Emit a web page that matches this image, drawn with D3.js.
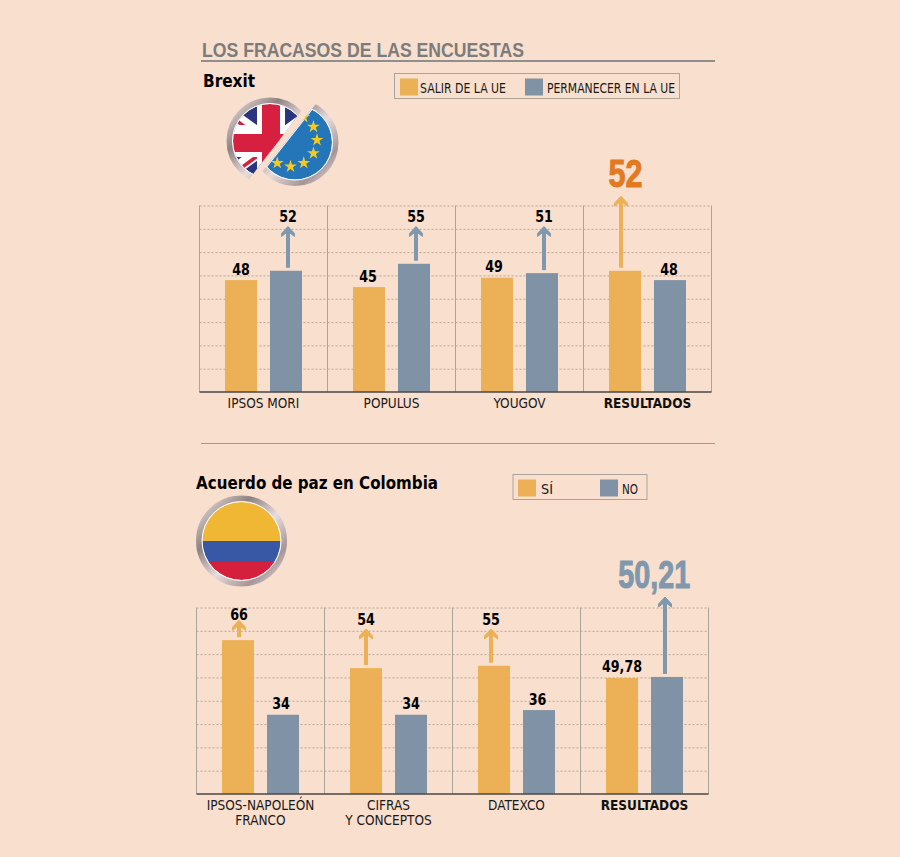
<!DOCTYPE html>
<html>
<head>
<meta charset="utf-8">
<script src="https://cdn.jsdelivr.net/npm/d3@7"></script>
<style>
html, body { margin: 0; padding: 0; background: #f9dfcd; }
svg { display: block; }
text { font-family: "DejaVu Sans Condensed", "DejaVu Sans", sans-serif; fill: #1a1a1a; }
.val { font-weight: bold; font-size: 15px; fill: #000; text-anchor: middle; }
.big { font-family: "Liberation Sans Narrow", "Liberation Sans", sans-serif; font-weight: bold; font-size: 39px; text-anchor: middle; stroke-width: 1px; }
.head { font-weight: bold; fill: #000; }
.leg { font-size: 14px; }
.grid line { stroke: #b8a797; stroke-dasharray: 2 2; }
.grid path { stroke: none; }
.cat path, .cat line { stroke: none; }
.cat text { font-size: 13.5px; fill: #1a1a1a; }
</style>
</head>
<body>
<svg id="chart" width="900" height="857"></svg>
<script>
var orange = '#ecb156', blue = '#8093a6', arrowBlue = '#7f98ae', resultOrange = '#e17a22';

// Brexit
var brexitCats = ['IPSOS MORI', 'POPULUS', 'YOUGOV', 'RESULTADOS'];
var brexitLeave = [48, 45, 49, 52];
var brexitStay = [52, 55, 51, 48];
var brexitLeaveLabels = ['48', '45', '49', '52'];
var brexitStayLabels = ['52', '55', '51', '48'];
// where the arrow tips reach, in chart units (0 = no arrow)
var brexitLeaveTips = [0, 0, 0, 84];
var brexitStayTips = [71, 71, 71, 0];

// Colombia
var colombiaCats = ['IPSOS-NAPOLEÓN|FRANCO', 'CIFRAS|Y CONCEPTOS', 'DATEXCO', 'RESULTADOS'];
var colombiaYes = [66, 54, 55, 49.78];
var colombiaNo = [34, 34, 36, 50.21];
var colombiaYesLabels = ['66', '54', '55', '49,78'];
var colombiaNoLabels = ['34', '34', '36', '50,21'];
var colombiaYesTips = [74.5, 70.8, 70.8, 0];
var colombiaNoTips = [0, 0, 0, 84.5];

var gridTicks = [0, 10, 20, 30, 40, 50, 60, 70, 80];

var svg = d3.select('#chart');

function text(x, y, str, cls, size, len) {
    var t = svg.append('text').attr('x', x).attr('y', y).attr('class', cls).text(str);
    if (size) t.style('font-size', size + 'px');
    if (len) t.attr('textLength', len).attr('lengthAdjust', 'spacingAndGlyphs');
    return t;
}

function drawChart(opt) {
    var g = svg.append('g').attr('transform', 'translate(' + opt.left + ',' + opt.top + ')');
    var w = opt.width, h = opt.height;
    var x0 = d3.scaleBand().domain(d3.range(opt.cats.length)).range([0, w]);
    var x1 = d3.scaleBand().domain([0, 1]).range([25.5, 102.5]).paddingInner(0.2889);
    var y = d3.scaleLinear().domain([0, 80]).range([h, 0]);

    g.append('g').attr('class', 'grid')
        .call(d3.axisLeft(y).tickValues(gridTicks).tickSize(-w).tickFormat(''))
        .selectAll('.tick').filter(function(d) { return d == 0; }).remove();

    g.selectAll('.panel').data(d3.range(opt.cats.length + 1)).enter().append('line')
        .attr('class', 'panel')
        .attr('x1', function(d) { return d * x0.bandwidth(); })
        .attr('x2', function(d) { return d * x0.bandwidth(); })
        .attr('y1', 0).attr('y2', h)
        .attr('stroke', '#aba49c').attr('stroke-width', 1);

    var series = [
        { vals: opt.a, labels: opt.aLabels, tips: opt.aTips, shift: opt.aShift, color: orange, arrow: orange, big: resultOrange },
        { vals: opt.b, labels: opt.bLabels, tips: opt.bTips, shift: opt.bShift, color: blue, arrow: arrowBlue, big: arrowBlue }
    ];

    series.forEach(function(s, si) {
        s.vals.forEach(function(v, i) {
            var cx = x0(i) + x1(si) + x1.bandwidth() / 2 + s.shift[i];
            g.append('rect')
                .attr('x', x0(i) + x1(si))
                .attr('y', y(v))
                .attr('width', x1.bandwidth())
                .attr('height', h - y(v))
                .attr('fill', s.color);

            var tip = s.tips[i], label;
            if (tip) {
                var ty = y(tip);
                g.append('line')
                    .attr('x1', cx).attr('x2', cx)
                    .attr('y1', y(v) - 3).attr('y2', ty + 2)
                    .attr('stroke', s.arrow).attr('stroke-width', 4);
                g.append('path')
                    .attr('d', 'M' + (cx - 6.5) + ',' + (ty + 10) + 'L' + (cx - 6.5) + ',' + (ty + 7) + 'L' + cx + ',' + ty + 'L' + (cx + 6.5) + ',' + (ty + 7) + 'L' + (cx + 6.5) + ',' + (ty + 10) + 'L' + cx + ',' + (ty + 5) + 'Z')
                    .attr('fill', s.arrow).attr('stroke', s.arrow).attr('stroke-width', 1);
                if (i == 3) {
                    g.append('text').attr('class', 'big')
                        .attr('x', cx + (si == 0 ? 4.5 : -10.7)).attr('y', ty - 9.5)
                        .attr('textLength', si == 0 ? 34 : 72).attr('lengthAdjust', 'spacingAndGlyphs')
                        .style('fill', s.big).style('stroke', s.big)
                        .text(s.labels[i]);
                } else {
                    label = g.append('text').attr('class', 'val')
                        .attr('x', cx).attr('y', ty - opt.lift[i])
                        .text(s.labels[i]);
                }
            } else {
                label = g.append('text').attr('class', 'val')
                    .attr('x', cx).attr('y', y(v) - 5.5)
                    .text(s.labels[i]);
            }
            if (label) {
                label.attr('textLength', label.node().getComputedTextLength() * 0.94).attr('lengthAdjust', 'spacingAndGlyphs');
            }
        });
    });

    // baseline + category labels
    var axis = g.append('g').attr('class', 'cat').attr('transform', 'translate(0,' + h + ')')
        .call(d3.axisBottom(x0).tickSize(0).tickFormat(''));
    axis.selectAll('.tick').each(function(d) {
        var parts = opt.cats[d].split('|');
        var t = d3.select(this).select('text').attr('y', 0).attr('dy', null);
        parts.forEach(function(p, j) {
            t.append('tspan').attr('x', 0).attr('y', 15.5 + j * 15).text(p);
        });
        if (d == 3) t.style('font-weight', 'bold').style('fill', '#111');
    });
    g.append('line').attr('x1', 0).attr('x2', w).attr('y1', h).attr('y2', h)
        .attr('stroke', '#4b4744').attr('stroke-width', 1.5);
}

function legend(x, y, w, h, items) {
    svg.append('rect').attr('x', x).attr('y', y).attr('width', w).attr('height', h)
        .attr('fill', 'none').attr('stroke', '#aba49c').attr('stroke-width', 1);
    items.forEach(function(d) {
        svg.append('rect').attr('x', d.sx).attr('y', y + 5).attr('width', 18).attr('height', 17).attr('fill', d.color);
        text(d.tx, y + 19, d.label, 'leg', null, d.len);
    });
}

// header
text(202, 57, 'LOS FRACASOS DE LAS ENCUESTAS', 'title', 20, 322)
    .style('font-family', '"Liberation Sans", sans-serif').style('font-weight', 'bold').style('fill', '#7c7c7c');
svg.append('line').attr('x1', 201).attr('x2', 715).attr('y1', 61).attr('y2', 61).attr('stroke', '#8f8f8f').attr('stroke-width', 2);
svg.append('line').attr('x1', 201).attr('x2', 715).attr('y1', 443.5).attr('y2', 443.5).attr('stroke', '#a39c93').attr('stroke-width', 1);

text(203, 87, 'Brexit', 'head', 17, 52);
text(196, 489, 'Acuerdo de paz en Colombia', 'head', 18, 242);

legend(394.5, 73.5, 285, 25, [
    { sx: 400, tx: 420, color: orange, label: 'SALIR DE LA UE', len: 86 },
    { sx: 525, tx: 547, color: blue, label: 'PERMANECER EN LA UE', len: 128 }
]);
legend(513, 474.5, 134, 25, [
    { sx: 518, tx: 541, color: orange, label: 'SÍ', len: 12 },
    { sx: 600, tx: 622, color: blue, label: 'NO', len: 16 }
]);

drawChart({
    left: 199.5, top: 205.5, width: 512, height: 186.5,
    cats: brexitCats, a: brexitLeave, b: brexitStay,
    aLabels: brexitLeaveLabels, bLabels: brexitStayLabels,
    aTips: brexitLeaveTips, bTips: brexitStayTips,
    aShift: [0, -1, -3, -4], bShift: [2, 2, 2, -1], lift: [4, 4, 4, 0]
});
drawChart({
    left: 196.5, top: 607.5, width: 512, height: 186.5,
    cats: colombiaCats, a: colombiaYes, b: colombiaNo,
    aLabels: colombiaYesLabels, bLabels: colombiaNoLabels,
    aTips: colombiaYesTips, bTips: colombiaNoTips,
    aShift: [1, 0, -3, 0], bShift: [-2, 0, -1.5, -2], lift: [0.5, 4, 4, 0]
});

// flags
var defs = svg.append('defs');
var grad = defs.append('linearGradient').attr('id', 'ring').attr('x1', '0').attr('y1', '0').attr('x2', '1').attr('y2', '1');
[['0%', '#efe3e3'], ['30%', '#8e8283'], ['55%', '#e8dcdc'], ['80%', '#a59596'], ['100%', '#efe3e3']].forEach(function(s) {
    grad.append('stop').attr('offset', s[0]).attr('stop-color', s[1]);
});
defs.append('clipPath').attr('id', 'cutL').append('polygon').attr('points', '350,48 200,243 100,243 100,48');
defs.append('clipPath').attr('id', 'cutR').append('polygon').attr('points', '368,38 156,306 450,306 450,38');
defs.append('clipPath').attr('id', 'ukDisc').append('circle').attr('cx', 270).attr('cy', 141).attr('r', 37);
defs.append('clipPath').attr('id', 'coDisc').append('circle').attr('cx', 241.5).attr('cy', 541).attr('r', 39);

function disc(g, cx, cy, r) {
    g.append('circle').attr('cx', cx).attr('cy', cy).attr('r', r + 3.5).attr('fill', 'none').attr('stroke', 'url(#ring)').attr('stroke-width', 6);
    g.append('circle').attr('cx', cx).attr('cy', cy).attr('r', r + 0.5).attr('fill', 'none').attr('stroke', '#fff').attr('stroke-width', 1);
}

var uk = svg.append('g').attr('clip-path', 'url(#cutL)');
var ukInner = uk.append('g').attr('clip-path', 'url(#ukDisc)');
ukInner.append('rect').attr('x', 225).attr('y', 98).attr('width', 90).attr('height', 90).attr('fill', '#2a3580');
var ukLines = [[151, 55, 391, 231], [151, 231, 391, 55]];
ukLines.forEach(function(l) {
    ukInner.append('line').attr('x1', l[0]).attr('y1', l[1]).attr('x2', l[2]).attr('y2', l[3]).attr('stroke', '#fff').attr('stroke-width', 12);
});
ukLines.forEach(function(l) {
    ukInner.append('line').attr('x1', l[0]).attr('y1', l[1] + 3).attr('x2', l[2]).attr('y2', l[3] + 3).attr('stroke', '#d71f3f').attr('stroke-width', 3.5);
});
ukInner.append('rect').attr('x', 257).attr('y', 98).attr('width', 28).attr('height', 90).attr('fill', '#fff');
ukInner.append('rect').attr('x', 225).attr('y', 125).attr('width', 90).attr('height', 32).attr('fill', '#fff');
ukInner.append('rect').attr('x', 262).attr('y', 98).attr('width', 18).attr('height', 90).attr('fill', '#d71f3f');
ukInner.append('rect').attr('x', 225).attr('y', 134).attr('width', 90).attr('height', 18).attr('fill', '#d71f3f');
disc(uk, 270, 141, 37);

var eu = svg.append('g').attr('clip-path', 'url(#cutR)');
eu.append('circle').attr('cx', 295).attr('cy', 142.5).attr('r', 37).attr('fill', '#2476b8');
eu.append('line').attr('x1', 315).attr('y1', 105).attr('x2', 262).attr('y2', 172).attr('stroke', '#fff').attr('stroke-width', 2);
disc(eu, 295, 142.5, 37);
[-60, -30, 0, 30, 60, 90, 120].forEach(function(a) {
    var r = a * Math.PI / 180;
    eu.append('path')
        .attr('d', d3.symbol().type(d3.symbolStar).size(50)())
        .attr('transform', 'translate(' + (290.5 + 26.5 * Math.cos(r)) + ',' + (140 + 26.5 * Math.sin(r)) + ')')
        .attr('fill', '#f7cb1b');
});

var co = svg.append('g');
var coInner = co.append('g').attr('clip-path', 'url(#coDisc)');
coInner.append('rect').attr('x', 200).attr('y', 500).attr('width', 84).attr('height', 41).attr('fill', '#efb734');
coInner.append('rect').attr('x', 200).attr('y', 541).attr('width', 84).attr('height', 21).attr('fill', '#3857a4');
coInner.append('rect').attr('x', 200).attr('y', 562).attr('width', 84).attr('height', 20).attr('fill', '#d41f3d');
disc(co, 241.5, 541, 39);
</script>
</body>
</html>
